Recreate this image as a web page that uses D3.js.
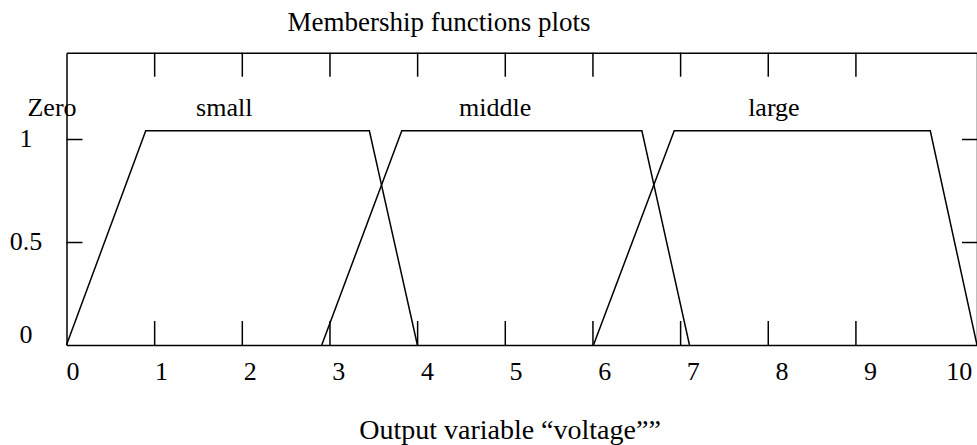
<!DOCTYPE html>
<html>
<head>
<meta charset="utf-8">
<script src="https://cdn.jsdelivr.net/npm/d3@7"></script>
<style>
  body { margin: 0; background: #fff; }
  svg { display: block; }
  text { font-family: "Liberation Serif", "Times New Roman", serif; font-size: 26px; fill: #000; }
  .axis path, .axis line { stroke: #000; stroke-width: 1.5; }
</style>
</head>
<body>
<svg id="chart" width="977" height="445"></svg>
<script>
// Trapezoidal membership functions of the output variable (a, b, c, d)
const smallMF  = [0, 0.904, 3.455, 4.003];
const middleMF = [2.912, 3.825, 6.564, 7.107];
const largeMF  = [6.012, 6.933, 9.854, 10.387];
const mfPeak = 1.04;

// Membership function names and where along the universe they are written
const labelNames = ["Zero", "small", "middle", "large"];
const labelAt    = [-0.165, 1.80, 4.89, 8.07];

// Axes
const xTickValues = [0, 1, 2, 3, 4, 5, 6, 7, 8, 9, 10];
const yTickValues = [0, 0.5, 1];
const xDomain = [0, 10.387];
const yDomain = [0, 1.419];

const chartTitle = "Membership functions plots";
const xTitle = "Output variable \u201Cvoltage\u201D\u201D";

const W = 977, H = 445;
const margin = { top: 52.7, right: 0, bottom: 100, left: 66.5 };

const svg = d3.select("#chart");

const x = d3.scaleLinear().domain(xDomain).range([margin.left, W - margin.right]);
const y = d3.scaleLinear().domain(yDomain).range([H - margin.bottom, margin.top]);
// tick numbers are set on their own, slightly wider, spacing
const xLabelPos = d3.scaleLinear().domain([0, 10]).range([72.9, 959.2]);

const inner = xTickValues.filter(v => v > 0 && v < 10);
const yInner = yTickValues.filter(v => v > 0);

// frame with inward ticks on all four sides
svg.append("g").attr("class", "axis")
  .attr("transform", `translate(0,${y(0)})`)
  .call(d3.axisBottom(x).tickValues(inner).tickSizeInner(-24).tickSizeOuter(0).tickFormat(""));
svg.append("g").attr("class", "axis")
  .attr("transform", `translate(0,${y(yDomain[1])})`)
  .call(d3.axisTop(x).tickValues(inner).tickSizeInner(-24).tickSizeOuter(0).tickFormat(""));
svg.append("g").attr("class", "axis")
  .attr("transform", `translate(${x(0)},0)`)
  .call(d3.axisLeft(y).tickValues(yInner).tickSizeInner(-16).tickSizeOuter(0).tickFormat(""));
svg.append("g").attr("class", "axis")
  .attr("transform", `translate(${x(xDomain[1])},0)`)
  .call(d3.axisRight(y).tickValues(yInner).tickSizeInner(-15).tickSizeOuter(0).tickFormat(""));

// tick numbers
svg.append("g").selectAll("text").data(xTickValues).join("text")
  .attr("x", d => xLabelPos(d))
  .attr("y", y(0) + 35)
  .attr("text-anchor", "middle")
  .text(d => d);
svg.append("g").selectAll("text").data(yTickValues).join("text")
  .attr("x", 26)
  .attr("y", d => Math.min(y(d) + 8, y(0) - 2))
  .attr("text-anchor", "middle")
  .text(d => d);

// membership function traces
const line = d3.line().x(d => x(d[0])).y(d => y(d[1]));
const trap = p => [[p[0], 0], [p[1], mfPeak], [p[2], mfPeak], [p[3], 0]];
svg.append("g").selectAll("path").data([smallMF, middleMF, largeMF]).join("path")
  .attr("d", p => line(trap(p)))
  .attr("fill", "none")
  .attr("stroke", "#000")
  .attr("stroke-width", 1.5)
  .attr("stroke-linejoin", "miter");

// membership function names
svg.append("g").selectAll("text").data(labelNames).join("text")
  .attr("x", (d, i) => x(labelAt[i]))
  .attr("y", y(mfPeak) - 15)
  .attr("text-anchor", "middle")
  .text(d => d);

// titles
svg.append("text").attr("x", 439).attr("y", 31).attr("text-anchor", "middle")
  .style("font-size", "27px").text(chartTitle);
svg.append("text").attr("x", 510).attr("y", 439).attr("text-anchor", "middle")
  .style("font-size", "28px").text(xTitle);
</script>
</body>
</html>
